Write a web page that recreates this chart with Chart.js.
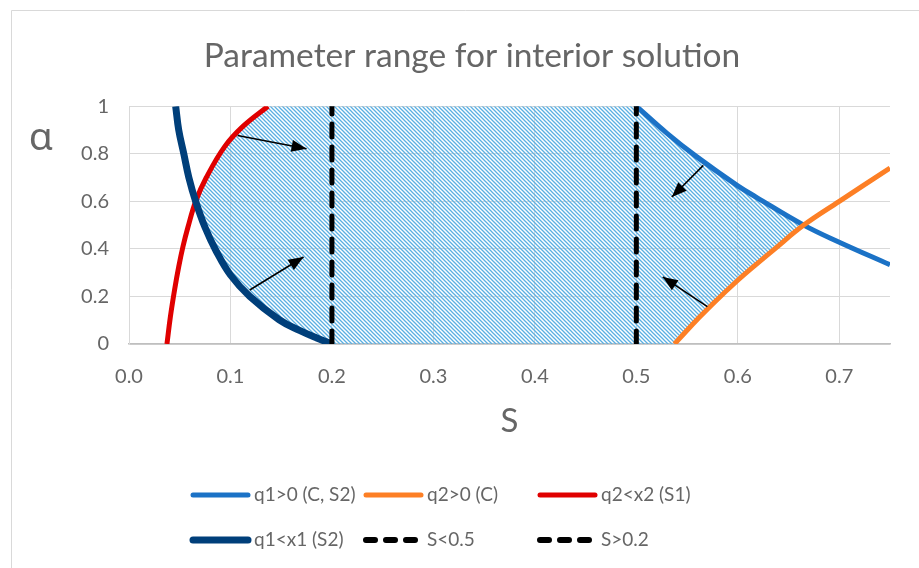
<!DOCTYPE html>
<html>
<head>
<meta charset="utf-8">
<script src="https://cdn.jsdelivr.net/npm/chart.js@4.4.1/dist/chart.umd.min.js"></script>
<style>
  html, body { margin: 0; padding: 0; background: #fff; }
</style>
</head>
<body>
<canvas id="rangeChart" width="919" height="568"></canvas>
<script>
// values, S on x, alpha on y

const q1PosS     = [0.500, 0.530, 0.559, 0.600, 0.618, 0.665, 0.700, 0.750];
const q1PosAlpha = [1.00, 0.887, 0.789, 0.665, 0.618, 0.50, 0.428, 0.333];

const q2PosS     = [0.5377, 0.550, 0.560, 0.578, 0.600, 0.614, 0.635, 0.665, 0.700, 0.750];
const q2PosAlpha = [0.00, 0.058, 0.103, 0.18, 0.268, 0.32, 0.395, 0.50, 0.60, 0.74];

const q2x2S     = [0.0374, 0.0408, 0.0450, 0.0490, 0.0532, 0.0580, 0.0657, 0.0762, 0.0943, 0.1123, 0.137];
const q2x2Alpha = [0.0, 0.115, 0.23, 0.325, 0.41, 0.49, 0.60, 0.70, 0.83, 0.915, 1.0];

const q1x1S     = [0.046, 0.049, 0.054, 0.059, 0.0657, 0.075, 0.086, 0.100, 0.119, 0.148, 0.168, 0.185, 0.200];
const q1x1Alpha = [1.0, 0.9, 0.8, 0.7, 0.6, 0.49, 0.39, 0.29, 0.2, 0.102, 0.057, 0.025, 0.0];

const upperS = 0.5;
const lowerS = 0.2;
const alphaSpan = [0, 1];

// where the boundary curves cross each other
const leftCrossAlpha = 0.6;
const rightCrossAlpha = 0.5;

// arrows: [fromS, fromAlpha, toS, toAlpha]
const arrows = [
  [0.107, 0.877, 0.175, 0.821],
  [0.119, 0.227, 0.172, 0.366],
  [0.566, 0.751, 0.535, 0.618],
  [0.570, 0.157, 0.526, 0.282]
];

const xTickLabels = ['0.0', '0.1', '0.2', '0.3', '0.4', '0.5', '0.6', '0.7'];
const yTickLabels = ['0', '0.2', '0.4', '0.6', '0.8', '1'];

const TEXT = '#666666';
const FONT = 'Lato, "Open Sans", sans-serif';

const pts = (xs, ys) => xs.map((x, i) => ({ x, y: ys[i] }));

// feasible region outline, walked round from the curves themselves
const region = [
  ...pts(q1x1S, q1x1Alpha).filter(p => p.y <= leftCrossAlpha).reverse(),
  ...pts(q2x2S, q2x2Alpha).filter(p => p.y > leftCrossAlpha),
  ...pts(q1PosS, q1PosAlpha).filter(p => p.y >= rightCrossAlpha),
  ...pts(q2PosS, q2PosAlpha).filter(p => p.y < rightCrossAlpha).reverse()
];
region.push(region[0]);

function hatchPattern() {
  const tile = document.createElement('canvas');
  tile.width = tile.height = 4;
  const t = tile.getContext('2d');
  t.strokeStyle = '#5aafe2';
  t.lineWidth = 1.3;
  t.beginPath();
  t.moveTo(-1, -1); t.lineTo(5, 5);
  t.moveTo(-1, 3);  t.lineTo(1, 5);
  t.moveTo(3, -1);  t.lineTo(5, 1);
  t.stroke();
  return t.createPattern(tile, 'repeat');
}

const curve = (label, xs, ys, color, width, order, slot) => ({
  label, data: pts(xs, ys), showLine: true, borderColor: color, backgroundColor: color,
  borderWidth: width, pointRadius: 0, tension: 0.4, order, legendSlot: slot
});

const vline = (label, s, order, slot) => ({
  label, data: [{ x: s, y: alphaSpan[0] }, { x: s, y: alphaSpan[1] }], showLine: true,
  borderColor: '#000', borderWidth: 5, borderDash: [13, 10], borderCapStyle: 'round',
  pointRadius: 0, order, legendSlot: slot, legendDash: [9, 11]
});

const datasets = [
  { label: 'region', data: region, showLine: true, fill: 'shape', backgroundColor: hatchPattern(),
    borderColor: 'rgba(0,0,0,0)', borderWidth: 0, pointRadius: 0, tension: 0, order: 10 },
  curve('q1>0 (C, S2)', q1PosS, q1PosAlpha, '#1b72c6', 5, 6, [0, 0]),
  curve('q2>0 (C)', q2PosS, q2PosAlpha, '#fd7f25', 5, 5, [1, 0]),
  curve('q2<x2 (S1)', q2x2S, q2x2Alpha, '#e00000', 5, 4, [2, 0]),
  curve('q1<x1 (S2)', q1x1S, q1x1Alpha, '#003f7a', 7, 3, [0, 1]),
  vline('S<0.5', upperS, 2, [1, 1]),
  vline('S>0.2', lowerS, 2, [2, 1]),
  ...arrows.map(a => ({
    label: 'arrow', data: [{ x: a[0], y: a[1] }, { x: a[2], y: a[3] }], showLine: true,
    borderColor: '#000', borderWidth: 1.6, pointRadius: 0, order: 1, arrow: true
  }))
];

const decor = {
  id: 'decor',
  beforeDraw(chart) {
    const ctx = chart.ctx;
    ctx.save();
    ctx.fillStyle = '#fff';
    ctx.fillRect(0, 0, chart.width, chart.height);
    ctx.strokeStyle = '#d9d9d9';
    ctx.lineWidth = 1;
    ctx.beginPath();
    ctx.moveTo(11.5, chart.height);
    ctx.lineTo(11.5, 10.5);
    ctx.lineTo(chart.width, 10.5);
    ctx.stroke();
    ctx.restore();
  },
  afterDatasetsDraw(chart) {
    const ctx = chart.ctx;
    chart.data.datasets.forEach((ds, i) => {
      if (!ds.arrow) return;
      const [p0, p1] = chart.getDatasetMeta(i).data;
      const ang = Math.atan2(p1.y - p0.y, p1.x - p0.x);
      const len = 15, half = 6;
      ctx.save();
      ctx.translate(p1.x, p1.y);
      ctx.rotate(ang);
      ctx.fillStyle = '#000';
      ctx.beginPath();
      ctx.moveTo(0, 0);
      ctx.lineTo(-len, -half);
      ctx.lineTo(-len, half);
      ctx.closePath();
      ctx.fill();
      ctx.restore();
    });
  },
  afterDraw(chart) {
    const ctx = chart.ctx;
    const area = chart.chartArea;
    ctx.save();
    // alpha axis label, upright
    ctx.fillStyle = TEXT;
    ctx.font = '39px "Noto Sans", sans-serif';
    ctx.textAlign = 'center';
    ctx.textBaseline = 'alphabetic';
    ctx.fillText('α', area.left - 88, area.top + 44);

    // legend in a 3 x 2 grid
    const colX = [190, 363, 537];
    const rowY = [495, 540];
    ctx.font = '19px ' + FONT;
    ctx.textAlign = 'left';
    ctx.textBaseline = 'middle';
    chart.data.datasets.forEach(ds => {
      if (!ds.legendSlot) return;
      const x = colX[ds.legendSlot[0]];
      const y = rowY[ds.legendSlot[1]];
      ctx.strokeStyle = ds.borderColor;
      ctx.lineWidth = ds.legendDash ? 6 : (ds.borderWidth > 5 ? 7 : 5);
      ctx.lineCap = 'round';
      ctx.setLineDash(ds.legendDash || []);
      ctx.beginPath();
      ctx.moveTo(x + 3, y);
      ctx.lineTo(x + 58, y);
      ctx.stroke();
      ctx.setLineDash([]);
      ctx.fillStyle = TEXT;
      ctx.fillText(ds.label, x + 64, y);
    });
    ctx.restore();
  }
};

new Chart(document.getElementById('rangeChart'), {
  type: 'scatter',
  data: { datasets },
  options: {
    responsive: false,
    animation: false,
    layout: { padding: { left: 54, right: 29, top: 0, bottom: 127 } },
    plugins: {
      legend: { display: false },
      tooltip: { enabled: false },
      title: {
        display: true,
        text: 'Parameter range for interior solution',
        color: TEXT,
        font: { family: FONT, size: 33.5, weight: 'normal' },
        padding: { top: 36, bottom: 30 }
      }
    },
    scales: {
      x: {
        type: 'linear',
        min: 0,
        max: 0.75,
        afterFit: scale => { scale.height = 97; },
        ticks: {
          stepSize: 0.1,
          includeBounds: false,
          padding: 21,
          color: TEXT,
          font: { family: FONT, size: 20 },
          callback: (v, i) => xTickLabels[i]
        },
        grid: { color: '#d9d9d9', drawTicks: false },
        border: { color: '#bfbfbf', width: 1.5 },
        title: {
          display: true,
          text: 'S',
          color: TEXT,
          font: { family: FONT, size: 33 },
          padding: { top: 15, bottom: 0 }
        }
      },
      y: {
        min: 0,
        max: 1,
        afterFit: scale => { scale.width = 75; },
        ticks: {
          stepSize: 0.2,
          padding: 20,
          color: TEXT,
          font: { family: FONT, size: 20 },
          callback: (v, i) => yTickLabels[i]
        },
        grid: { color: '#d9d9d9', drawTicks: false },
        border: { color: '#d9d9d9' }
      }
    }
  },
  plugins: [decor]
});
</script>
</body>
</html>
